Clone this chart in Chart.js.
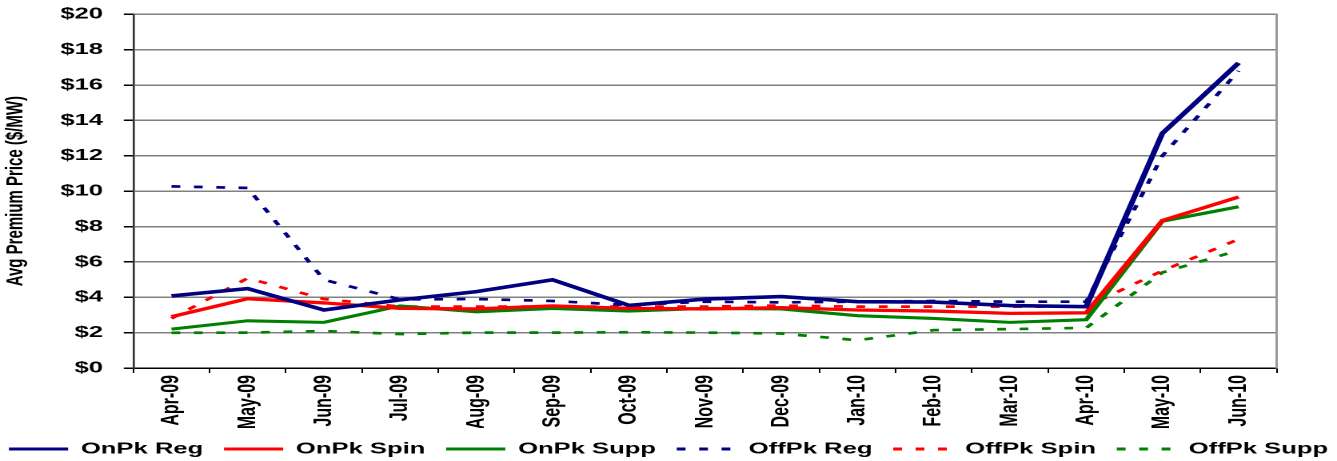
<!DOCTYPE html>
<html>
<head>
<meta charset="utf-8">
<script src="https://cdn.jsdelivr.net/npm/chart.js@4.4.1/dist/chart.umd.min.js"></script>
<style>
  html, body { margin: 0; padding: 0; background: #fff; overflow: hidden; }
  #wrap { width: 836px; height: 461px; transform: scaleX(1.59928); transform-origin: 0 0; }
</style>
</head>
<body>
<div id="wrap"><canvas id="c" width="836" height="461"></canvas></div>
<script>
const months = ['Apr-09','May-09','Jun-09','Jul-09','Aug-09','Sep-09','Oct-09','Nov-09','Dec-09','Jan-10','Feb-10','Mar-10','Apr-10','May-10','Jun-10'];
const onPkReg   = [4.08, 4.49, 3.28, 3.85, 4.32, 4.99, 3.54, 3.90, 4.04, 3.75, 3.73, 3.53, 3.47, 13.27, 17.25];
const onPkSpin  = [2.90, 3.92, 3.68, 3.37, 3.34, 3.51, 3.37, 3.34, 3.41, 3.28, 3.22, 3.09, 3.12, 8.34, 9.67];
const onPkSupp  = [2.20, 2.67, 2.58, 3.51, 3.18, 3.37, 3.22, 3.37, 3.34, 2.96, 2.80, 2.58, 2.73, 8.30, 9.12];
const offPkReg  = [10.27, 10.18, 4.99, 3.88, 3.90, 3.79, 3.56, 3.75, 3.71, 3.75, 3.79, 3.75, 3.75, 12.00, 16.80];
const offPkSpin = [2.80, 5.08, 3.90, 3.47, 3.47, 3.47, 3.47, 3.47, 3.53, 3.47, 3.47, 3.47, 3.47, 5.50, 7.28];
const offPkSupp = [1.99, 2.00, 2.09, 1.92, 2.00, 2.00, 2.02, 2.00, 1.95, 1.57, 2.14, 2.20, 2.27, 5.40, 6.65];
const yTicks = [0, 2, 4, 6, 8, 10, 12, 14, 16, 18, 20];

const NAVY = '#000080', RED = '#ff0000', GREEN = '#008000';
const DASH = [5.5, 8.5];
const FONT = 'Liberation Sans, Arial, sans-serif';
const SIDE = -14;

function ds(label, data, color, dashed, width) {
  return {
    label, data, borderColor: color, backgroundColor: color,
    borderWidth: width, borderDash: dashed ? DASH : [],
    pointRadius: 0, pointHoverRadius: 0, tension: 0, fill: false
  };
}

new Chart(document.getElementById('c'), {
  type: 'line',
  data: {
    labels: months,
    datasets: [
      ds('OnPk Reg', onPkReg, NAVY, false, 3.6),
      ds('OnPk Spin', onPkSpin, RED, false, 3.3),
      ds('OnPk Supp', onPkSupp, GREEN, false, 3.1),
      ds('OffPk Reg', offPkReg, NAVY, true, 2.7),
      ds('OffPk Spin', offPkSpin, RED, true, 2.7),
      ds('OffPk Supp', offPkSupp, GREEN, true, 2.7)
    ]
  },
  options: {
    responsive: false,
    maintainAspectRatio: false,
    animation: false,
    devicePixelRatio: 2,
    layout: { padding: { top: 14.3, bottom: -6, left: SIDE, right: SIDE } },
    plugins: {
      tooltip: { enabled: false },
      legend: {
        position: 'bottom',
        labels: {
          usePointStyle: true,
          pointStyleWidth: 37,
          boxHeight: 16,
          padding: 13,
          color: '#000',
          font: { family: FONT, size: 16, weight: 'bold' },
          generateLabels: (chart) => chart.data.datasets.map((d, i) => ({
            text: d.label,
            fillStyle: 'rgba(0,0,0,0)',
            strokeStyle: d.borderColor,
            lineWidth: 3,
            lineDash: d.borderDash,
            pointStyle: 'line',
            hidden: false,
            datasetIndex: i,
            fontColor: '#000'
          }))
        }
      }
    },
    scales: {
      x: {
        type: 'category',
        offset: true,
        afterFit: (s) => { s.height = 60; },
        grid: { display: true, drawOnChartArea: false, drawTicks: true, tickLength: 5, color: '#000', offset: true },
        border: { display: true, color: '#000', width: 1.5 },
        ticks: {
          autoSkip: false, maxRotation: 90, minRotation: 90, padding: 2,
          color: '#000', font: { family: FONT, size: 16, weight: 'bold' }
        }
      },
      y: {
        position: 'left',
        min: 0, max: 20,
        afterFit: (s) => { s.width = 83.4 - SIDE; s.paddingTop = 0; s.paddingBottom = 0; },
        afterBuildTicks: (s) => { s.ticks = yTicks.map(v => ({ value: v })); },
        grid: { color: '#808080', lineWidth: 1.5, drawTicks: true, tickLength: 6, tickColor: '#000', tickWidth: 1.5 },
        border: { display: true, color: '#333', width: 1.3 },
        ticks: {
          padding: 13, color: '#000',
          font: { family: FONT, size: 16, weight: 'bold' },
          callback: (v) => '$' + v
        },
        title: {
          display: true, text: 'Avg Premium Price ($/MW)', color: '#000',
          font: { family: FONT, size: 15, weight: 'bold' },
          padding: { top: 1 - SIDE, bottom: 0 }
        }
      },
      y2: {
        position: 'right',
        min: 0, max: 20,
        afterFit: (s) => { s.width = 37.7 - SIDE; s.paddingTop = 0; s.paddingBottom = 0; },
        grid: { display: false, drawTicks: false },
        border: { display: true, color: '#999', width: 1.5 },
        ticks: { display: false }
      }
    }
  }
});
</script>
</body>
</html>
